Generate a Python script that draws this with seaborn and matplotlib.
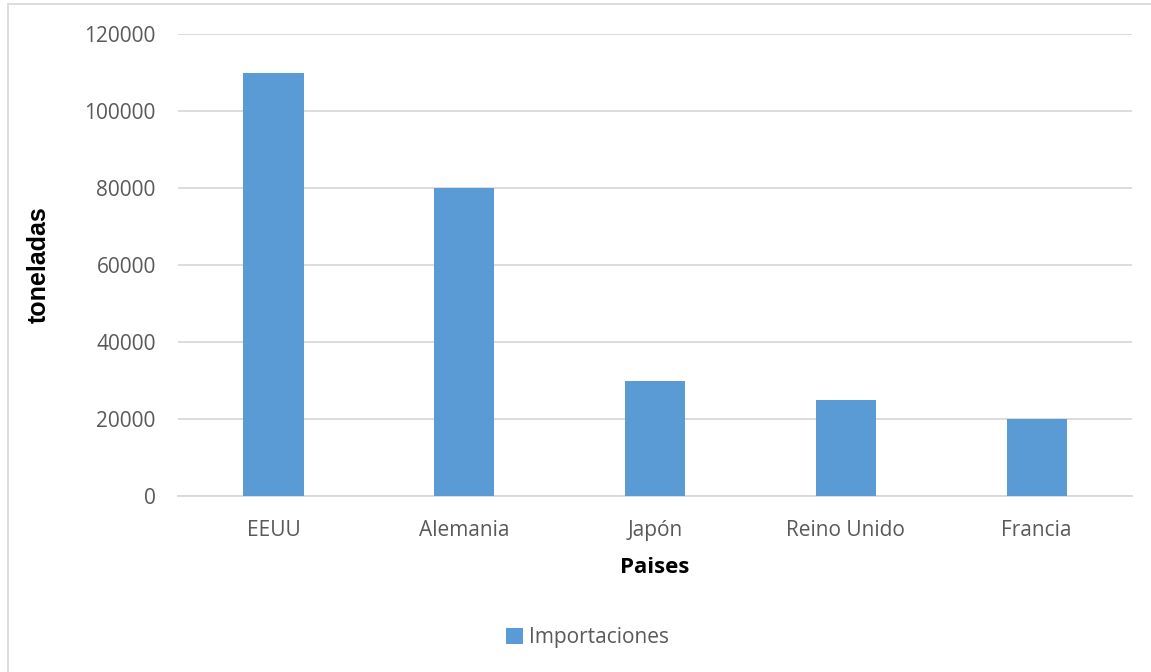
import matplotlib
matplotlib.use("Agg")
import matplotlib.pyplot as plt
import seaborn as sns
import pandas as pd
from matplotlib.patches import Rectangle

paises = ["EEUU", "Alemania", "Japón", "Reino Unido", "Francia"]
importaciones = [110000, 80000, 30000, 25000, 20000]
y_ticks = [0, 20000, 40000, 60000, 80000, 100000, 120000]
serie = "Importaciones"

df = pd.DataFrame({"Paises": paises, "toneladas": importaciones})

sns.set_theme(style="white")
plt.rcParams["font.family"] = ["Open Sans", "DejaVu Sans"]

fig = plt.figure(figsize=(11.51, 6.72), dpi=100)
ax = fig.add_axes([0.1547, 0.2619, 0.9835 - 0.1547, 0.9494 - 0.2619])

bar_color = "#5B9BD5"
sns.barplot(data=df, x="Paises", y="toneladas", color=bar_color, width=0.315,
            saturation=1, linewidth=0, ax=ax, zorder=3, label=serie)

ax.set_ylim(0, 120000)
ax.set_yticks(y_ticks)
ax.set_yticklabels([str(v) for v in y_ticks])
ax.yaxis.grid(True, color="#D9D9D9", linewidth=1.3, zorder=0)
ax.set_axisbelow(True)
for side in ["top", "right", "left"]:
    ax.spines[side].set_visible(False)
ax.spines["bottom"].set_color("#D9D9D9")
ax.spines["bottom"].set_linewidth(1.3)
ax.tick_params(axis="both", length=0, labelsize=15, colors="#595959")
ax.tick_params(axis="y", pad=16)
ax.tick_params(axis="x", pad=17)

ax.set_xlabel("Paises", fontsize=16, fontweight="bold", color="black", labelpad=12)
ax.set_ylabel("toneladas", fontsize=18, fontweight="bold", color="black",
              family=["Liberation Sans", "DejaVu Sans"], labelpad=24)

leg = ax.legend(loc="center", bbox_to_anchor=(0.429, -0.307), frameon=False,
                fontsize=15, handlelength=0.8, handleheight=0.8, handletextpad=0.3)
for t in leg.get_texts():
    t.set_color("#595959")

# Chart area frame
fig.patches.append(Rectangle((8 / 1151, -0.05), 1.2, 1 - 4 / 672 + 0.05,
                             transform=fig.transFigure, fill=False,
                             edgecolor="#D9D9D9", linewidth=1.3))

fig.savefig("out.png", dpi=100, facecolor="white")
